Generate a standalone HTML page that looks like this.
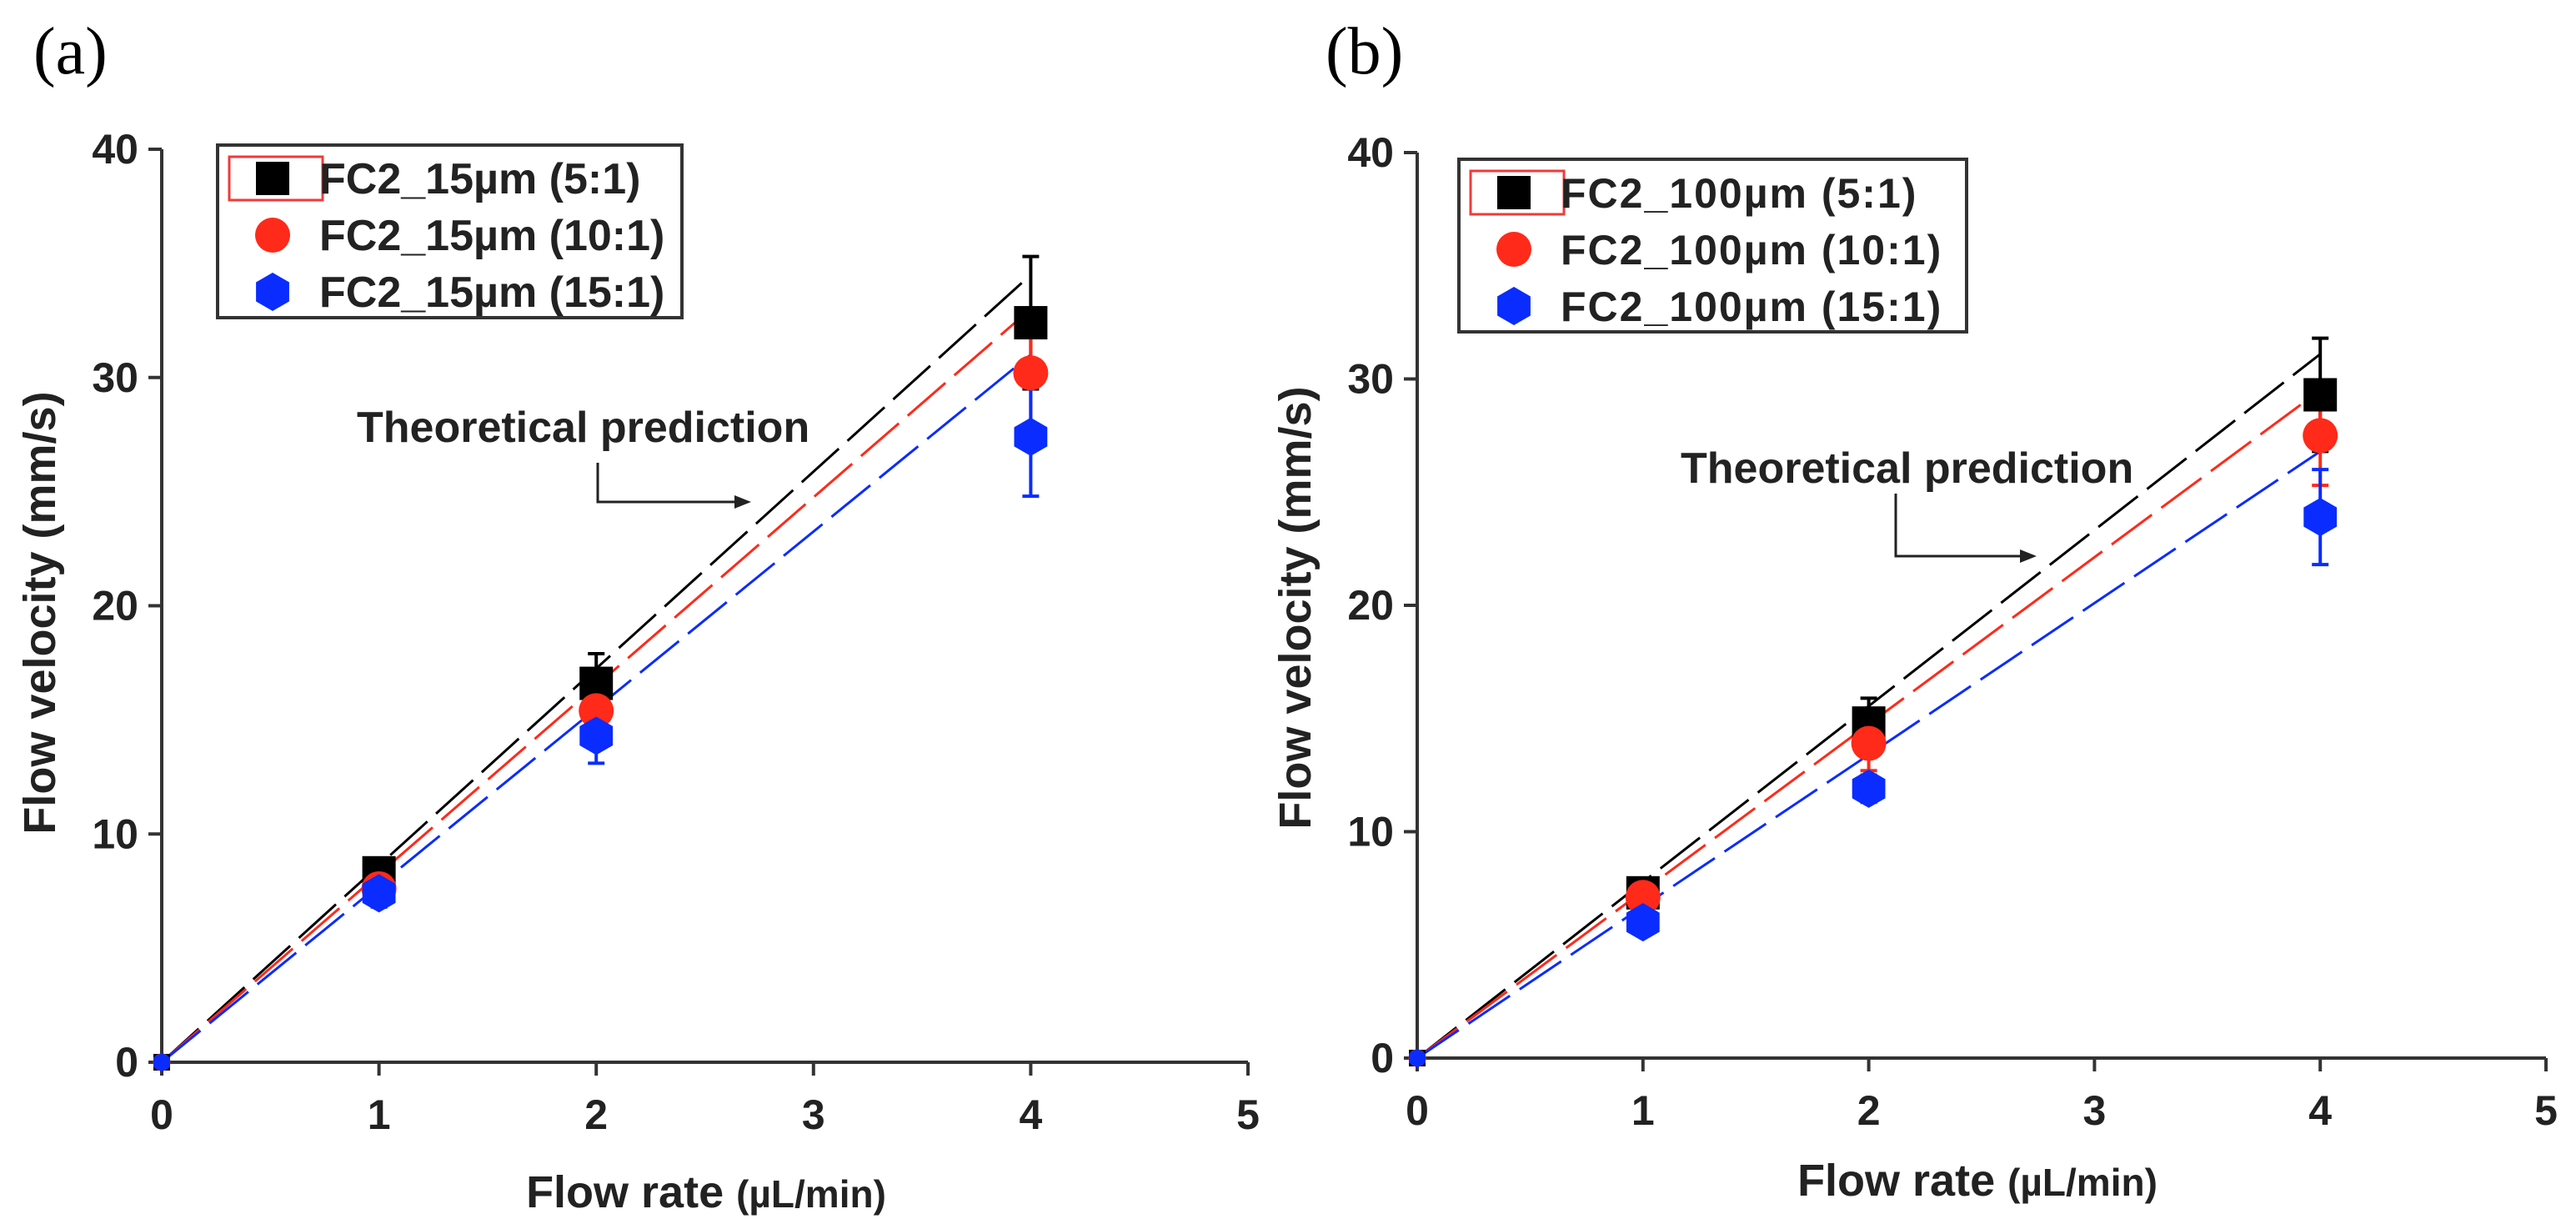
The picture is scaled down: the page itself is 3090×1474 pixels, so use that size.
<!DOCTYPE html>
<html><head><meta charset="utf-8">
<style>
html,body{margin:0;padding:0;background:#fff;}
svg{display:block;font-family:"Liberation Sans",Arial,sans-serif;}
</style></head>
<body>
<svg id="fig" width="3090" height="1474" viewBox="0 0 3090 1474" xmlns="http://www.w3.org/2000/svg">
<rect width="3090" height="1474" fill="#fff"/>
</svg>
<script>
const xCategories = [0, 1, 2, 4];
const xTicks = [0, 1, 2, 3, 4, 5];
const yTicks = [0, 10, 20, 30, 40];
// panel a
const aBlack = [0, 8.3, 16.6, 32.4];
const aRed = [0, 7.6, 15.4, 30.2];
const aBlue = [0, 7.4, 14.3, 27.4];
const aBlackErr = [0, 0.5, 1.3, 2.9];
const aRedErr = [0, 0.6, 1.2, 2.6];
const aBlueErr = [0, 0.6, 1.2, 2.6];
const aLineEnd = [34.5, 33.0, 31.0];
const aLegend = ["FC2_15\u00b5m (5:1)", "FC2_15\u00b5m (10:1)", "FC2_15\u00b5m (15:1)"];
// panel b
const bBlack = [0, 7.3, 14.8, 29.3];
const bRed = [0, 7.1, 13.9, 27.5];
const bBlue = [0, 6.0, 11.9, 23.9];
const bBlackErr = [0, 0.5, 1.1, 2.5];
const bRedErr = [0, 0.6, 1.2, 2.2];
const bBlueErr = [0, 0.4, 0.6, 2.1];
const bLineEnd = [31.1, 29.5, 26.8];
const bLegend = ["FC2_100\u00b5m (5:1)", "FC2_100\u00b5m (10:1)", "FC2_100\u00b5m (15:1)"];

const NS = "http://www.w3.org/2000/svg";
const svg = document.getElementById('fig');
function mk(tag, attrs, parent, text){
  const e = document.createElementNS(NS, tag);
  for (const k in attrs) e.setAttribute(k, attrs[k]);
  if (text !== undefined) e.textContent = text;
  (parent||svg).appendChild(e);
  return e;
}
const colors = ['#000000', '#ff2a1a', '#0a2cff'];

function panel(p){
  const g = mk('g', {});
  
  
  const X = v => p.x0 + (p.x1 - p.x0) * v / 5;
  const Y = v => p.y0 - (p.y0 - p.y1) * v / 40;
  let t = mk('text', {x:p.lx, y:p.ly, 'font-family':'"Liberation Serif",serif','font-size':80}, g, p.label);
  
  
  let ax = mk('path', {d:`M${p.x0} ${Y(40)} V${p.y0} H${X(5)}`, stroke:'#333', 'stroke-width':4, fill:'none'}, g);
  
  
  yTicks.forEach(v=>{
    mk('line',{x1:p.x0-16,x2:p.x0,y1:Y(v),y2:Y(v),stroke:'#333','stroke-width':4},g);
    const tl = mk('text',{x:p.x0-28,y:Y(v)+17,'text-anchor':'end','font-size':50,'font-weight':'bold',fill:'#222'},g,String(v));
    
    
  });
  xTicks.forEach(v=>{
    mk('line',{x1:X(v),x2:X(v),y1:p.y0,y2:p.y0+16,stroke:'#333','stroke-width':4},g);
    const tl = mk('text',{x:X(v),y:p.y0+80,'text-anchor':'middle','font-size':50,'font-weight':'bold',fill:'#222'},g,String(v));
    
    
  });
  const xt = mk('text',{x:p.xtx,y:p.xty,'text-anchor':'middle','font-size':54,'font-weight':'bold',fill:'#222'},g);
  mk('tspan',{},xt,'Flow rate ');
  mk('tspan',{'font-size':46},xt,'(\u00b5L/min)');
  
  
  const yt = mk('text',{x:0,y:0,transform:`translate(${p.ytx},${p.yty}) rotate(-90)`,'text-anchor':'middle','font-size':54,'font-weight':'bold',fill:'#222'},g,'Flow velocity (mm/s)');
  
  
  p.lineEnd.forEach((v,i)=>{
    const l = mk('line',{x1:X(0),y1:Y(0),x2:X(4),y2:Y(v),stroke:colors[i],'stroke-width':3,'stroke-dasharray':'60 14'},g);
    
    
  });
  p.series.forEach((s,i)=>{
    const err = p.errs[i];
    s.forEach((v,j)=>{
      if (err[j] > 0){
        const cx = X(xCategories[j]);
        const e = mk('path',{d:`M${cx} ${Y(v-err[j])} V${Y(v+err[j])} M${cx-10} ${Y(v+err[j])} h20 M${cx-10} ${Y(v-err[j])} h20`,stroke:colors[i],'stroke-width':4,fill:'none'},g);
        
        
      }
    });
  });
  p.series.forEach((s,i)=>{
    s.forEach((v,j)=>{
      const m = marker(i, X(xCategories[j]), Y(v), g, j===0 ? 0.5 : 1);
      
      
    });
  });
  const lg = mk('g',{},g);
  
  
  mk('rect',{x:p.lgx,y:p.lgy,width:p.lgw,height:p.lgh,fill:'#fff',stroke:'#333','stroke-width':4},lg);
  mk('rect',{x:p.lgx+14,y:p.lgy+14,width:112,height:52,fill:'none',stroke:'#f03a3a','stroke-width':3},lg);
  p.legend.forEach((txt,i)=>{
    const cy = p.lgy + 40 + i*68;
    const m = marker(i, p.lgx+66, cy, lg, 1);
    
    
    const te = mk('text',{x:p.lgx+122,y:cy+18,'font-size':p.fs,'font-weight':'bold',fill:'#222','letter-spacing':p.ls},lg,txt);
    
    
  });
  const an = mk('text',{x:p.anx,y:p.any,'font-size':52,'font-weight':'bold',fill:'#222'},g,'Theoretical prediction');
  
  
  const ar = mk('path',{d:`M${p.arx} ${p.ary0} V${p.ary1} H${p.arx2-14}`,stroke:'#222','stroke-width':3,fill:'none'},g);
  
  
  mk('path',{d:`M${p.arx2} ${p.ary1} l-20 -8 v16 z`,fill:'#222'},g);
}
function marker(i, cx, cy, parent, s){
  if (i===0) return mk('rect',{x:cx-20*s,y:cy-20*s,width:40*s,height:40*s,fill:'#000'},parent);
  if (i===1) return mk('circle',{cx:cx,cy:cy,r:21*s,fill:colors[1]},parent);
  const r=23*s, pts=[];
  for(let k=0;k<6;k++){const a=Math.PI/6+k*Math.PI/3; pts.push((cx+r*Math.cos(a)).toFixed(1)+','+(cy+r*Math.sin(a)).toFixed(1));}
  return mk('polygon',{points:pts.join(' '),fill:colors[2]},parent);
}
panel({id:'panel-a',label:'(a)',lx:40,ly:88,x0:194,x1:1497,y0:1274,y1:179,
  series:[aBlack,aRed,aBlue],errs:[aBlackErr,aRedErr,aBlueErr],lineEnd:aLineEnd,legend:aLegend,ls:0,fs:52,
  xtx:847,xty:1448,ytx:66,yty:735,lgx:261,lgy:174,lgw:557,lgh:207,
  anx:428,any:530,arx:717,ary0:555,ary1:602,arx2:901});
panel({id:'panel-b',label:'(b)',lx:1590,ly:88,x0:1700,x1:3054,y0:1269,y1:183,
  series:[bBlack,bRed,bBlue],errs:[bBlackErr,bRedErr,bBlueErr],lineEnd:bLineEnd,legend:bLegend,ls:2,fs:50,
  xtx:2372,xty:1434,ytx:1572,yty:729,lgx:1750,lgy:191,lgw:609,lgh:207,
  anx:2016,any:579,arx:2274,ary0:592,ary1:667,arx2:2443});
</script>
</body></html>
